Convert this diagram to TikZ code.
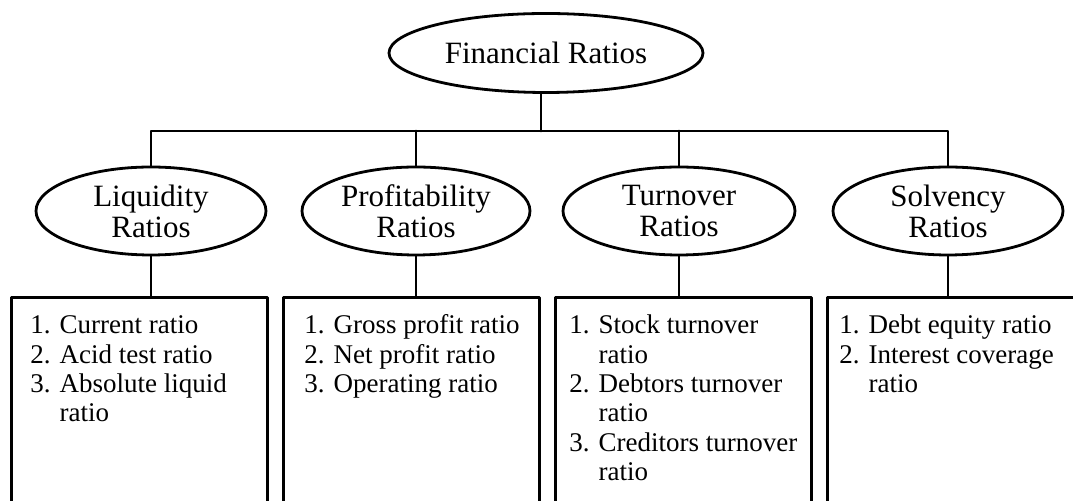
\documentclass[tikz,border=0pt]{standalone}
\usepackage{fontspec}
\setmainfont{Liberation Serif}
\usepackage{tikz}
\usetikzlibrary{positioning,shapes.geometric}

\begin{document}
\begin{tikzpicture}[x=0.5pt,y=-0.5pt, line width=1.4pt, line cap=round, line join=round,
  oval/.style={draw, ellipse, inner sep=0pt, align=center,
    font=\fontsize{15.5}{15.5}\selectfont},
  listbox/.style={draw, rectangle, anchor=north west,
    minimum width=128pt, minimum height=120pt},
  listtext/.style={anchor=base west, inner sep=0pt,
    font=\fontsize{13.5}{14.65}\selectfont}]
\useasboundingbox (0,0) rectangle (1073,501);
\clip (0,0) rectangle (1073,501);

% top node
\node[oval, minimum width=157pt, minimum height=39.5pt] (fin) at (546,53) {Financial Ratios};

% groups
\node[oval, minimum width=115pt, minimum height=44pt] (liq) at (151,211) {Liquidity\\Ratios};
\node[oval, minimum width=114pt, minimum height=44pt] (prof) at (416,211) {Profitability\\Ratios};
\node[oval, minimum width=116pt, minimum height=44pt] (turn) at (679,211) {Turnover\\Ratios};
\node[oval, minimum width=115pt, minimum height=44pt] (solv) at (948,211) {Solvency\\Ratios};

% tree lines
\coordinate (bar) at (541,131);
\draw ([xshift=-2.5pt]fin.south) -- (bar);
\draw (liq.north) |- (bar) -| (solv.north);
\draw (prof.north) -- (prof.north |- bar);
\draw (turn.north) -- (turn.north |- bar);

% boxes (open at the bottom edge)
\node[listbox] (b1) at (10,296) {};
\node[listbox] (b2) at (282,296) {};
\node[listbox] (b3) at (554,296) {};
\node[listbox] (b4) at (826,296) {};

\draw (liq.south) -- (liq.south |- b1.north);
\draw (prof.south) -- (prof.south |- b2.north);
\draw (turn.south) -- (turn.south |- b3.north);
\draw (solv.south) -- (solv.south |- b4.north);

% lists
\node[listtext] (l1) at (29,334) {\begin{tabular}[t]{@{}r@{ }l@{}}
  1. & Current ratio\\
  2. & Acid test ratio\\
  3. & Absolute liquid\\
     & ratio
\end{tabular}};
\node[listtext] (l2) at (303,334) {\begin{tabular}[t]{@{}r@{ }l@{}}
  1. & Gross profit ratio\\
  2. & Net profit ratio\\
  3. & Operating ratio
\end{tabular}};
\node[listtext] (l3) at (568,334) {\begin{tabular}[t]{@{}r@{ }l@{}}
  1. & Stock turnover\\
     & ratio\\
  2. & Debtors turnover\\
     & ratio\\
  3. & Creditors turnover\\
     & ratio
\end{tabular}};
\node[listtext] (l4) at (838,334) {\begin{tabular}[t]{@{}r@{ }l@{}}
  1. & Debt equity ratio\\
  2. & Interest coverage\\
     & ratio
\end{tabular}};
\end{tikzpicture}
\end{document}
